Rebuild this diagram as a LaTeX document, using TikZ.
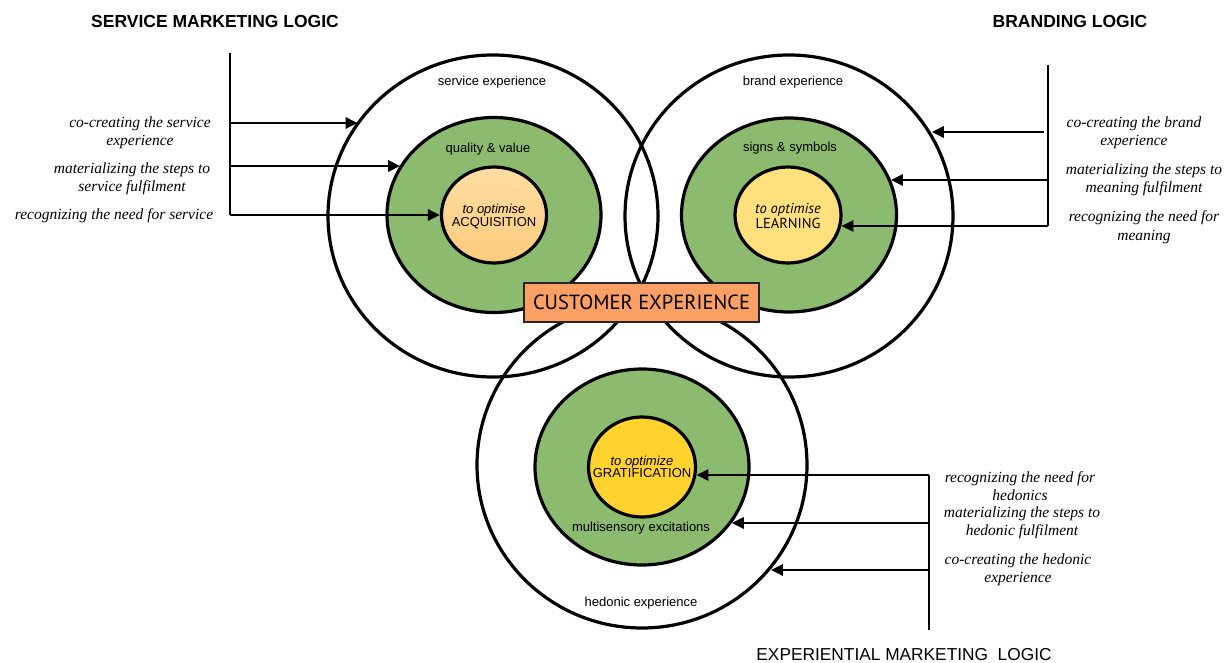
\documentclass[tikz,border=0pt]{standalone}
\usepackage{fontspec}
\setmainfont{Liberation Serif}
\newfontfamily\arial{Liberation Sans}
\newfontfamily\tah{PT Sans}
\usetikzlibrary{shapes.geometric,arrows.meta}
\definecolor{grn}{HTML}{8CBB6F}
\definecolor{acqtop}{HTML}{FFDDA2}
\definecolor{acqbot}{HTML}{FCCB7C}
\definecolor{learn}{HTML}{FFE07C}
\definecolor{grat}{HTML}{FFD22E}
\definecolor{cebox}{HTML}{FAA064}
\begin{document}
\begin{tikzpicture}[x=1pt,y=-1pt,
  ring/.style={ellipse, draw=black, line width=3.2pt, inner sep=0pt},
  lbl/.style={font=\fontsize{15.5}{18.5}\selectfont\itshape, align=center, inner sep=0pt},
  small/.style={font=\arial\fontsize{13}{15}\selectfont, inner sep=0pt},
  inlbl/.style={align=center, inner sep=0pt},
  arr/.style={line width=2.8pt, -{Triangle[length=12pt,width=11pt]}},
  trunk/.style={line width=2.2pt},
  titlebold/.style={font=\arial\bfseries\fontsize{17.5}{20}\selectfont, inner sep=0pt},
  titleplain/.style={font=\arial\fontsize{17.3}{20}\selectfont, inner sep=0pt}]
\useasboundingbox (0,0) rectangle (1231,663);

% outer rings
\node[ring, minimum width=330pt, minimum height=322pt] (outerL) at (493,216) {};
\node[ring, minimum width=328pt, minimum height=322pt] (outerR) at (789,216) {};
\node[ring, minimum width=330pt, minimum height=326pt] (outerB) at (642,465) {};

% green rings
\node[ring, fill=grn, minimum width=214pt, minimum height=195pt] (greenL) at (494,215) {};
\node[ring, fill=grn, minimum width=215pt, minimum height=194pt] (greenR) at (789,215) {};
\node[ring, fill=grn, minimum width=214pt, minimum height=196pt] (greenB) at (642,467) {};

% inner circles
\node[ring, top color=acqtop, bottom color=acqbot, minimum width=105pt, minimum height=96pt] (innerL) at (494,215) {};
\node[ring, fill=learn, minimum width=106pt, minimum height=96pt] (innerR) at (788,215) {};
\node[ring, fill=grat, minimum width=107pt, minimum height=100pt] (innerB) at (642,467) {};

\node[inlbl, font=\arial\fontsize{13}{13.5}\selectfont] (xL) at (494,216.5) {\itshape to optimise\\ACQUISITION};
\node[inlbl, font=\tah\fontsize{14.5}{15}\selectfont] (xR) at (788,215.5) {\itshape to optimise\\LEARNING};
\node[inlbl, font=\arial\fontsize{13}{12.5}\selectfont] (xB) at (642,467) {\itshape to optimize\\GRATIFICATION};

% ring labels
\node[small] (tSE) at (492,82) {service experience};
\node[small] (tQV) at (488,149) {quality \& value};
\node[small] (tBE) at (793,82) {brand experience};
\node[small] (tSS) at (790,148) {signs \& symbols};
\node[small] (tME) at (641,528) {multisensory excitations};
\node[small] (tHE) at (641,603) {hedonic experience};

% customer experience box
\node[draw=black!85, line width=2pt, fill=cebox, minimum width=235pt, minimum height=39pt, inner sep=0pt,
      font=\tah\fontsize{20.5}{22}\selectfont] (CE) at (641.5,302.5) {CUSTOMER EXPERIENCE};

% titles
\node[titlebold] (T1) at (215,21) {SERVICE MARKETING LOGIC};
\node[titlebold] (T2) at (1070,21) {BRANDING LOGIC};
\node[titleplain] (T3) at (904,655) {EXPERIENTIAL MARKETING\ \ LOGIC};

% left trunk
\coordinate (L0) at (230,53);
\coordinate (L1) at (230,123);
\coordinate (L2) at (230,166);
\coordinate (L3) at (230,215);
\draw[trunk] (L0) -- (L3);
\draw[arr] (L1) -- (L1 -| outerL.145.7);
\draw[arr] (L2) -- (L2 -| greenL.152.5);
\draw[arr] (L3) -- (innerL.west);

% right trunk
\coordinate (R0) at (1048,65);
\coordinate (R1) at (1044,132);
\coordinate (R2) at (1048,180);
\coordinate (R3) at (1048,226);
\draw[trunk] (R0) -- (R3);
\draw[arr] (R1) -- (R1 -| outerR.30.7);
\draw[arr] (R2) -- (R2 -| greenR.19);
\draw[arr] (R3) -- (R3 -| innerR.-11.7);

% bottom trunk
\coordinate (B1) at (929,475);
\coordinate (B2) at (929,523);
\coordinate (B3) at (929,570);
\coordinate (B4) at (929,630);
\draw[trunk] (B1) -- (B4);
\draw[arr] (B1) -- (B1 -| innerB.-8.4);
\draw[arr] (B2) -- (B2 -| greenB.-32);
\draw[arr] (B3) -- (B3 -| outerB.-39.3);

% left labels
\node[lbl] (a1) at (140,133) {co-creating the service\\experience};
\node[lbl] (a2) at (132,179) {materializing the steps to\\service fulfilment};
\node[lbl] (a3) at (114,216) {recognizing the need for service};

% right labels
\node[lbl] (b1) at (1134,133) {co-creating the brand\\experience};
\node[lbl] (b2) at (1144,180) {materializing the steps to\\meaning fulfilment};
\node[lbl] (b3) at (1144,227) {recognizing the need for\\meaning};

% bottom labels
\node[lbl] (c1) at (1020,486) {recognizing the need for\\hedonics};
\node[lbl] (c2) at (1022,523) {materializing the steps to\\hedonic fulfilment};
\node[lbl] (c3) at (1018,570) {co-creating the hedonic\\experience};
\end{tikzpicture}
\end{document}
